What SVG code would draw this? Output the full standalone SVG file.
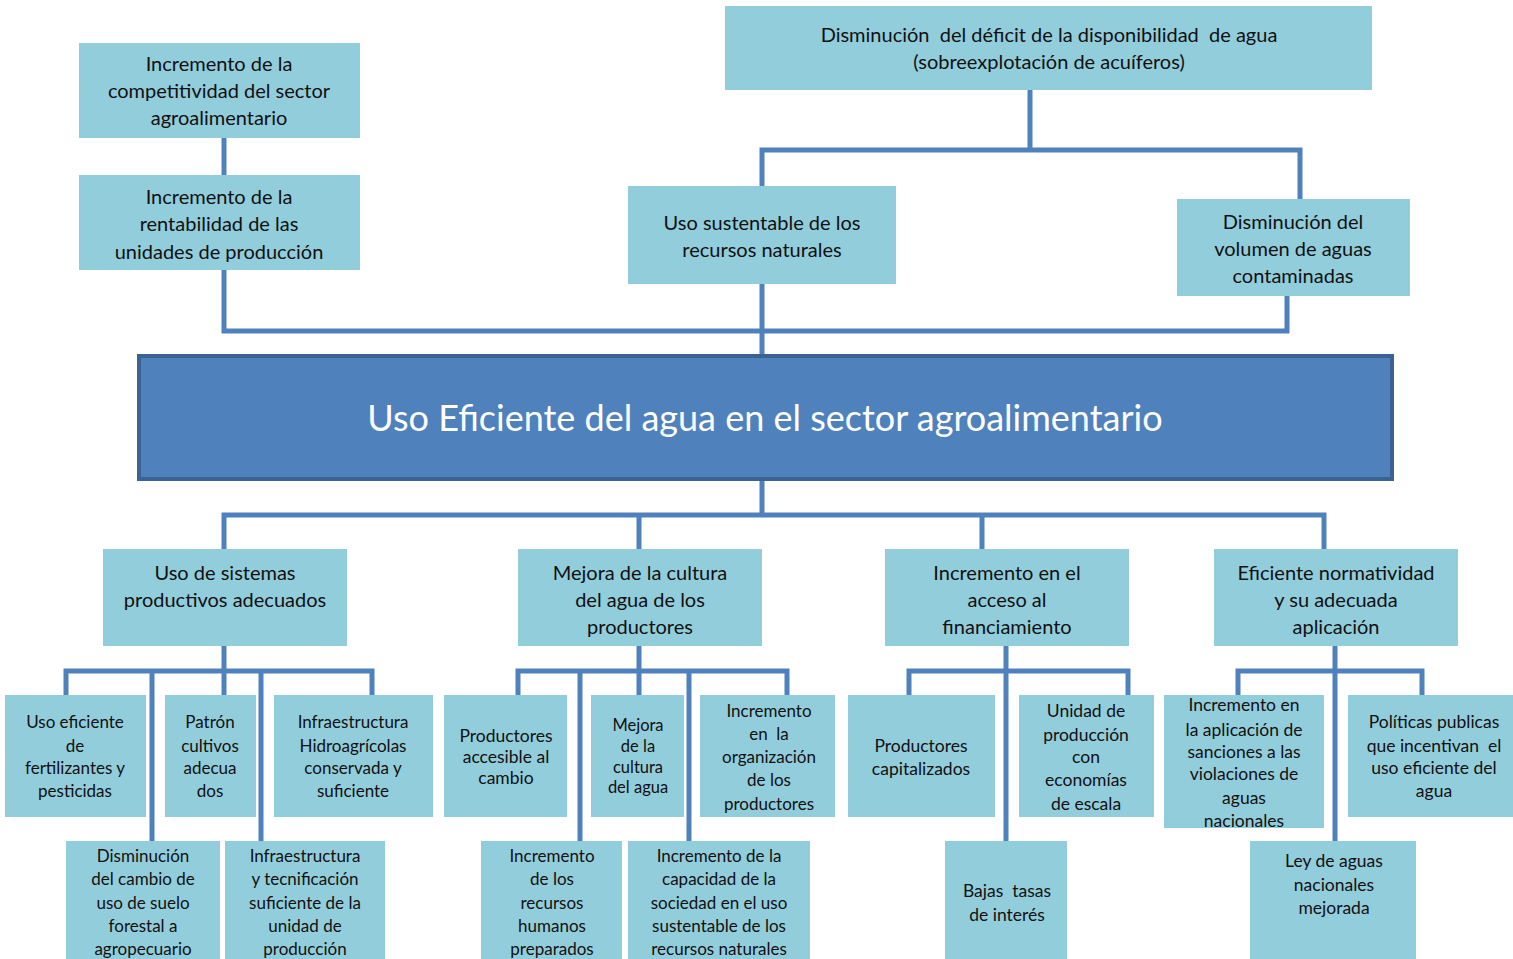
<svg xmlns="http://www.w3.org/2000/svg" width="1513" height="959" viewBox="0 0 1513 959">
<style>
.box{fill:#92CDDC;}
.main{fill:#4F81BD;stroke:#3A6394;stroke-width:4;}
.c{fill:none;stroke:#4F81BD;stroke-width:5;stroke-linejoin:miter;}
text{font-family:Lato,"Open Sans","Liberation Sans",sans-serif;fill:#111;text-anchor:middle;white-space:pre;}
.t20{font-size:20px;}
.t17{font-size:17px;}
.t16{font-size:17.5px;}
.t15{font-size:16.5px;}
.title{font-size:36px;fill:#fff;}
</style>
<rect width="1513" height="959" fill="#fff"/>
<g id="connectors">
<path class="c" d="M224 138V175"/>
<path class="c" d="M224 270V331H1287V296"/>
<path class="c" d="M762 284V356"/>
<path class="c" d="M1030 90V150"/>
<path class="c" d="M762 186V150H1300V199"/>
<path class="c" d="M762 479V515"/>
<path class="c" d="M224 549V515H1324V549"/>
<path class="c" d="M639 515V549"/>
<path class="c" d="M982 515V549"/>
<path class="c" d="M224 646V695"/>
<path class="c" d="M66 695V671H372V695"/>
<path class="c" d="M152 671V841"/>
<path class="c" d="M261 671V841"/>
<path class="c" d="M639 646V695"/>
<path class="c" d="M518 695V671H787V695"/>
<path class="c" d="M580 671V841"/>
<path class="c" d="M689 671V841"/>
<path class="c" d="M1006 646V841"/>
<path class="c" d="M909 695V671H1128V695"/>
<path class="c" d="M1335 646V841"/>
<path class="c" d="M1238 695V671H1422V695"/>
</g>
<g id="n-competitividad"><rect class="box" x="79" y="43" width="281" height="95"/>
<text class="t20" x="219" y="71">Incremento de la</text><text class="t20" x="219" y="98">competitividad del sector</text><text class="t20" x="219" y="125">agroalimentario</text></g>
<g id="n-rentabilidad"><rect class="box" x="79" y="175" width="281" height="95"/>
<text class="t20" x="219" y="204">Incremento de la</text><text class="t20" x="219" y="231">rentabilidad de las</text><text class="t20" x="219" y="259">unidades de producción</text></g>
<g id="n-deficit"><rect class="box" x="725" y="6" width="647" height="84"/>
<text class="t20" x="1049" y="42">Disminución  del déficit de la disponibilidad  de agua</text><text class="t20" x="1049" y="69">(sobreexplotación de acuíferos)</text></g>
<g id="n-sustentable"><rect class="box" x="628" y="186" width="268" height="98"/>
<text class="t20" x="762" y="230">Uso sustentable de los</text><text class="t20" x="762" y="257">recursos naturales</text></g>
<g id="n-contaminadas"><rect class="box" x="1177" y="199" width="233" height="97"/>
<text class="t20" x="1293" y="229">Disminución del</text><text class="t20" x="1293" y="256">volumen de aguas</text><text class="t20" x="1293" y="283">contaminadas</text></g>
<g id="n-main"><rect class="main" x="139" y="356" width="1253" height="123"/>
<text class="title" x="765" y="431">Uso Eficiente del agua en el sector agroalimentario</text></g>
<g id="n-sistemas"><rect class="box" x="103" y="549" width="244" height="97"/>
<text class="t20" x="225" y="580">Uso de sistemas</text><text class="t20" x="225" y="607">productivos adecuados</text></g>
<g id="n-cultura"><rect class="box" x="518" y="549" width="244" height="97"/>
<text class="t20" x="640" y="580">Mejora de la cultura</text><text class="t20" x="640" y="607">del agua de los</text><text class="t20" x="640" y="634">productores</text></g>
<g id="n-financiamiento"><rect class="box" x="885" y="549" width="244" height="97"/>
<text class="t20" x="1007" y="580">Incremento en el</text><text class="t20" x="1007" y="607">acceso al</text><text class="t20" x="1007" y="634">financiamiento</text></g>
<g id="n-normatividad"><rect class="box" x="1214" y="549" width="244" height="97"/>
<text class="t20" x="1336" y="580">Eficiente normatividad</text><text class="t20" x="1336" y="607">y su adecuada</text><text class="t20" x="1336" y="634">aplicación</text></g>
<g id="n-fertilizantes"><rect class="box" x="5" y="695" width="141" height="122"/>
<text class="t17" x="75" y="728">Uso eficiente</text><text class="t17" x="75" y="752">de</text><text class="t17" x="75" y="774">fertilizantes y</text><text class="t17" x="75" y="797">pesticidas</text></g>
<g id="n-patron"><rect class="box" x="165" y="695" width="91" height="122"/>
<text class="t17" x="210" y="728">Patrón</text><text class="t17" x="210" y="752">cultivos</text><text class="t17" x="210" y="774">adecua</text><text class="t17" x="210" y="797">dos</text></g>
<g id="n-hidroagricolas"><rect class="box" x="274" y="695" width="159" height="122"/>
<text class="t17" x="353" y="728">Infraestructura</text><text class="t17" x="353" y="752">Hidroagrícolas</text><text class="t17" x="353" y="774">conservada y</text><text class="t17" x="353" y="797">suficiente</text></g>
<g id="n-suelo"><rect class="box" x="66" y="841" width="154" height="118"/>
<text class="t17" x="143" y="862">Disminución</text><text class="t17" x="143" y="885">del cambio de</text><text class="t17" x="143" y="909">uso de suelo</text><text class="t17" x="143" y="932">forestal a</text><text class="t17" x="143" y="955">agropecuario</text></g>
<g id="n-tecnificacion"><rect class="box" x="225" y="841" width="160" height="118"/>
<text class="t17" x="305" y="862">Infraestructura</text><text class="t17" x="305" y="885">y tecnificación</text><text class="t17" x="305" y="909">suficiente de la</text><text class="t17" x="305" y="932">unidad de</text><text class="t17" x="305" y="955">producción</text></g>
<g id="n-accesible"><rect class="box" x="444" y="695" width="123" height="122"/>
<text class="t16" x="506" y="742">Productores</text><text class="t16" x="506" y="763">accesible al</text><text class="t16" x="506" y="784">cambio</text></g>
<g id="n-mejora"><rect class="box" x="591" y="695" width="93" height="122"/>
<text class="t15" x="638" y="731">Mejora</text><text class="t15" x="638" y="752">de la</text><text class="t15" x="638" y="773">cultura</text><text class="t15" x="638" y="793">del agua</text></g>
<g id="n-organizacion"><rect class="box" x="700" y="695" width="135" height="122"/>
<text class="t17" x="769" y="717">Incremento</text><text class="t17" x="769" y="740">en  la</text><text class="t17" x="769" y="763">organización</text><text class="t17" x="769" y="786">de los</text><text class="t17" x="769" y="810">productores</text></g>
<g id="n-humanos"><rect class="box" x="481" y="841" width="141" height="118"/>
<text class="t17" x="552" y="862">Incremento</text><text class="t17" x="552" y="885">de los</text><text class="t17" x="552" y="909">recursos</text><text class="t17" x="552" y="932">humanos</text><text class="t17" x="552" y="955">preparados</text></g>
<g id="n-capacidad"><rect class="box" x="628" y="841" width="182" height="118"/>
<text class="t17" x="719" y="862">Incremento de la</text><text class="t17" x="719" y="885">capacidad de la</text><text class="t17" x="719" y="909">sociedad en el uso</text><text class="t17" x="719" y="932">sustentable de los</text><text class="t17" x="719" y="955">recursos naturales</text></g>
<g id="n-capitalizados"><rect class="box" x="848" y="695" width="147" height="122"/>
<text class="t16" x="921" y="752">Productores</text><text class="t16" x="921" y="775">capitalizados</text></g>
<g id="n-escala"><rect class="box" x="1019" y="695" width="135" height="122"/>
<text class="t16" x="1086" y="717">Unidad de</text><text class="t16" x="1086" y="741">producción</text><text class="t16" x="1086" y="763">con</text><text class="t16" x="1086" y="786">economías</text><text class="t16" x="1086" y="810">de escala</text></g>
<g id="n-tasas"><rect class="box" x="945" y="841" width="122" height="118"/>
<text class="t16" x="1007" y="897">Bajas  tasas</text><text class="t16" x="1007" y="921">de interés</text></g>
<g id="n-sanciones"><rect class="box" x="1164" y="695" width="160" height="133"/>
<text class="t16" x="1244" y="711">Incremento en</text><text class="t16" x="1244" y="736">la aplicación de</text><text class="t16" x="1244" y="758">sanciones a las</text><text class="t16" x="1244" y="780">violaciones de</text><text class="t16" x="1244" y="804">aguas</text><text class="t16" x="1244" y="827">nacionales</text></g>
<g id="n-politicas"><rect class="box" x="1348" y="695" width="165" height="122"/>
<text class="t16" x="1434" y="728">Políticas publicas</text><text class="t16" x="1434" y="752">que incentivan  el</text><text class="t16" x="1434" y="774">uso eficiente del</text><text class="t16" x="1434" y="797">agua</text></g>
<g id="n-ley"><rect class="box" x="1250" y="841" width="166" height="118"/>
<text class="t16" x="1334" y="867">Ley de aguas</text><text class="t16" x="1334" y="891">nacionales</text><text class="t16" x="1334" y="914">mejorada</text></g>
</svg>
